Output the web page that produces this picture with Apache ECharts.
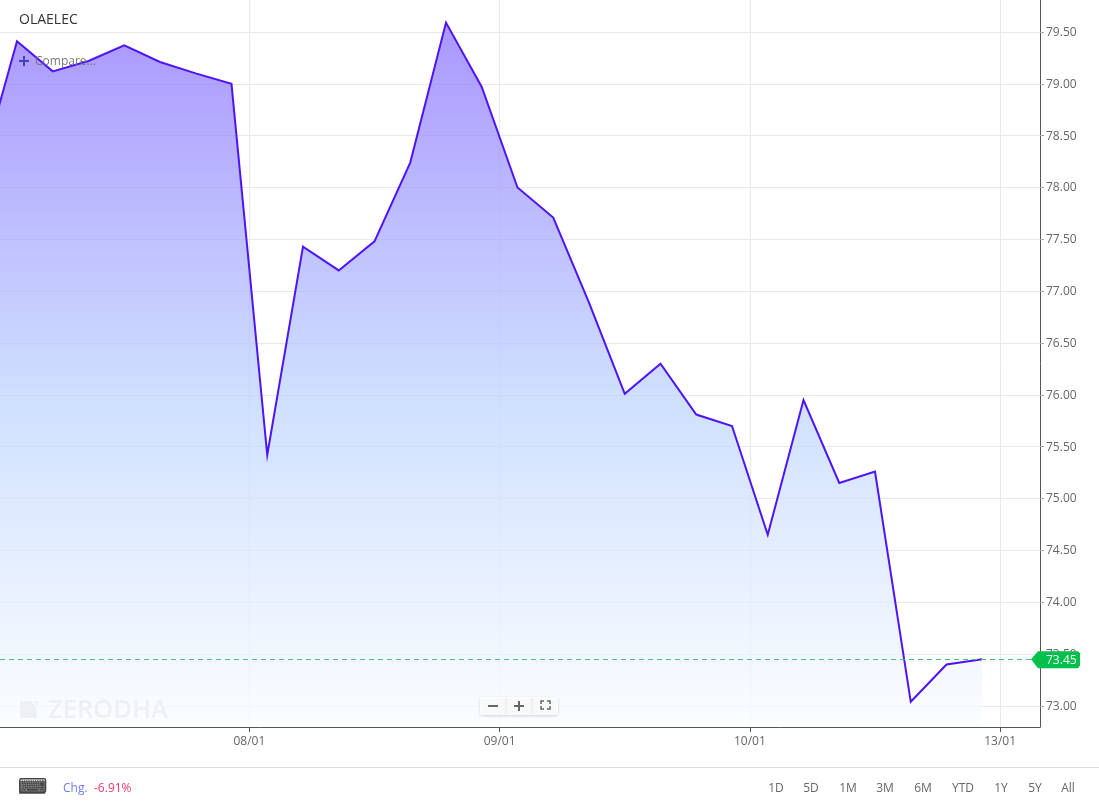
<!DOCTYPE html>
<html><head><meta charset="utf-8">
<style>html,body{margin:0;padding:0;background:#fff}#c{width:1099px;height:808px}</style>
<script src="https://cdn.jsdelivr.net/npm/echarts@6/dist/echarts.min.js"></script>
</head><body><div id="c"></div>
<script>
const symbolName = 'OLAELEC';
const priceValues = [78.17,79.41,79.12,79.22,79.37,79.21,79.10,79.00,75.42,77.43,77.20,77.48,78.24,79.59,78.97,78.00,77.71,76.89,76.01,76.30,75.81,75.70,74.65,75.95,75.15,75.26,73.04,73.40,73.45];
const xTickIndex = [7.5,14.5,21.5,28.5];
const xTickLabels = ['08/01','09/01','10/01','13/01'];
const yTicks = [73,73.5,74,74.5,75,75.5,76,76.5,77,77.5,78,78.5,79,79.5];
const changeText = '-6.91%';
const rangeLabels = ['1D','5D','1M','3M','6M','YTD','1Y','5Y','All'];
const rangeCenters = [776,811,848,885,923,963,1001,1035,1068];
const lastValue = priceValues[priceValues.length-1];
const FONT = '"Open Sans", sans-serif';

const chart = echarts.init(document.getElementById('c'), null, {renderer:'canvas'});
const option = {
  animation:false,
  backgroundColor:'#fff',
  grid:{left:0,right:59,top:0,bottom:81,containLabel:false},
  xAxis:{
    type:'value', min:0.525, max:29.615,
    axisLine:{show:true,onZero:false,lineStyle:{color:'#555',width:1}},
    axisTick:{show:true,length:5,lineStyle:{color:'#555'},customValues:xTickIndex},
    axisLabel:{color:'#666',fontFamily:FONT,fontSize:12,margin:9,customValues:xTickIndex,
      formatter:v=>xTickLabels[xTickIndex.indexOf(v)]||''},
    splitLine:{show:true,lineStyle:{color:'#e9e9e9',width:1}}
  },
  yAxis:{
    type:'value', position:'right', min:72.797, max:79.808,
    axisLine:{show:true,onZero:false,lineStyle:{color:'#555',width:1}},
    axisTick:{show:true,length:4,lineStyle:{color:'#aaa'},customValues:yTicks},
    axisLabel:{color:'#666',fontFamily:FONT,fontSize:12,margin:6,customValues:yTicks,
      formatter:v=>'{t|'+v.toFixed(2)+'}',
      rich:{t:{color:'#666',fontFamily:FONT,fontSize:12,verticalAlign:'top',padding:[1,0,0,0]}}},
    splitLine:{show:true,lineStyle:{color:'#e9e9e9',width:1}}
  },
  series:[{
    type:'line', symbol:'none', smooth:false, clip:true,
    data:priceValues.map((v,i)=>[i,v]),
    lineStyle:{color:'#4d14f5',width:2,join:'miter'},
    areaStyle:{origin:'start',opacity:1,color:{type:'linear',x:0,y:0,x2:0,y2:727,global:true,colorStops:[
      {offset:0,color:'rgba(135,105,255,0.72)'},
      {offset:0.55,color:'rgba(188,212,255,0.72)'},
      {offset:1,color:'rgba(250,253,255,0.72)'}]}},
    markLine:{silent:true,symbol:'none',animation:false,
      lineStyle:{color:'#45bf7c',type:[5,4],width:1},
      label:{show:false},data:[{yAxis:lastValue}]}
  }]
};
chart.setOption(option);

const py = chart.convertToPixel({yAxisIndex:0}, lastValue);
const txt=(x,y,text,fill,size,extra)=>({type:'text',x,y,silent:true,z:50,
  style:Object.assign({text,fill,font:`${size}px ${FONT}`,textAlign:'left',textVerticalAlign:'middle'},extra||{})});
const gr=[];
// header
gr.push(txt(19,20,symbolName,'#333',14));
gr.push({type:'rect',z:50,silent:true,shape:{x:19,y:60,width:10,height:2},style:{fill:'#4a3fc0'}});
gr.push({type:'rect',z:50,silent:true,shape:{x:23,y:56,width:2,height:10},style:{fill:'#4a3fc0'}});
gr.push(txt(35,62,'Compare...','#777',12));
// watermark
gr.push({type:'polygon',z:50,silent:true,shape:{points:[[20,701],[30,701],[34,704],[36.5,710],[37,718],[20,718]]},style:{fill:'#eef0f3'}});
gr.push({type:'polygon',z:50,silent:true,shape:{points:[[33,701],[38,701],[38,706]]},style:{fill:'#eef0f3'}});
gr.push(txt(48,711,'ZERODHA','#eef0f3',25,{font:`600 25.5px ${FONT}`}));
// zoom controls
gr.push({type:'rect',z:50,silent:true,shape:{x:480,y:697,width:78,height:18,r:2},
  style:{fill:'rgba(255,255,255,0.85)',shadowBlur:3,shadowColor:'rgba(0,0,0,0.2)',shadowOffsetY:1}});
gr.push({type:'rect',z:51,silent:true,shape:{x:488,y:705,width:10,height:2},style:{fill:'#666'}});
gr.push({type:'rect',z:51,silent:true,shape:{x:514,y:705,width:10,height:2},style:{fill:'#666'}});
gr.push({type:'rect',z:51,silent:true,shape:{x:518,y:701,width:2,height:10},style:{fill:'#666'}});
[506,532].forEach(x=>gr.push({type:'line',z:51,silent:true,shape:{x1:x,y1:698,x2:x,y2:714},style:{stroke:'#e8e8e8',lineWidth:1}}));
[[541,704,541,701,544,701],[547,701,550,701,550,704],[541,706,541,709,544,709],[547,709,550,709,550,706]].forEach(p=>
  gr.push({type:'polyline',z:51,silent:true,shape:{points:[[p[0],p[1]],[p[2],p[3]],[p[4],p[5]]]},style:{stroke:'#666',lineWidth:1.5,fill:null}}));
// last price tag
gr.push({type:'polygon',z:60,silent:true,shape:{points:[[1031,py],[1038,py-8],[1078,py-8],[1080,py-6],[1080,py+6],[1078,py+9],[1038,py+9]]},style:{fill:'#00c04b'}});
gr.push(txt(1046,py+1.5,lastValue.toFixed(2),'#fff',12,{}));
gr[gr.length-1].z=61;
// footer
gr.push({type:'line',z:50,silent:true,shape:{x1:0,y1:767.5,x2:1099,y2:767.5},style:{stroke:'#ddd',lineWidth:1}});
gr.push({type:'rect',z:49,silent:true,shape:{x:19,y:781,width:26,height:13},style:{fill:'#777'}});
gr.push(txt(18,788,'\u2328','#444',20,{font:'20.5px "DejaVu Sans"'}));
gr.push(txt(63,789,'Chg.','#6d7df0',12));
gr.push(txt(94,789,changeText,'#f5386b',12));
rangeLabels.forEach((l,i)=>gr.push(txt(rangeCenters[i],789,l,'#666',12,{textAlign:'center'})));
chart.setOption({graphic:{elements:gr}});
</script></body></html>
